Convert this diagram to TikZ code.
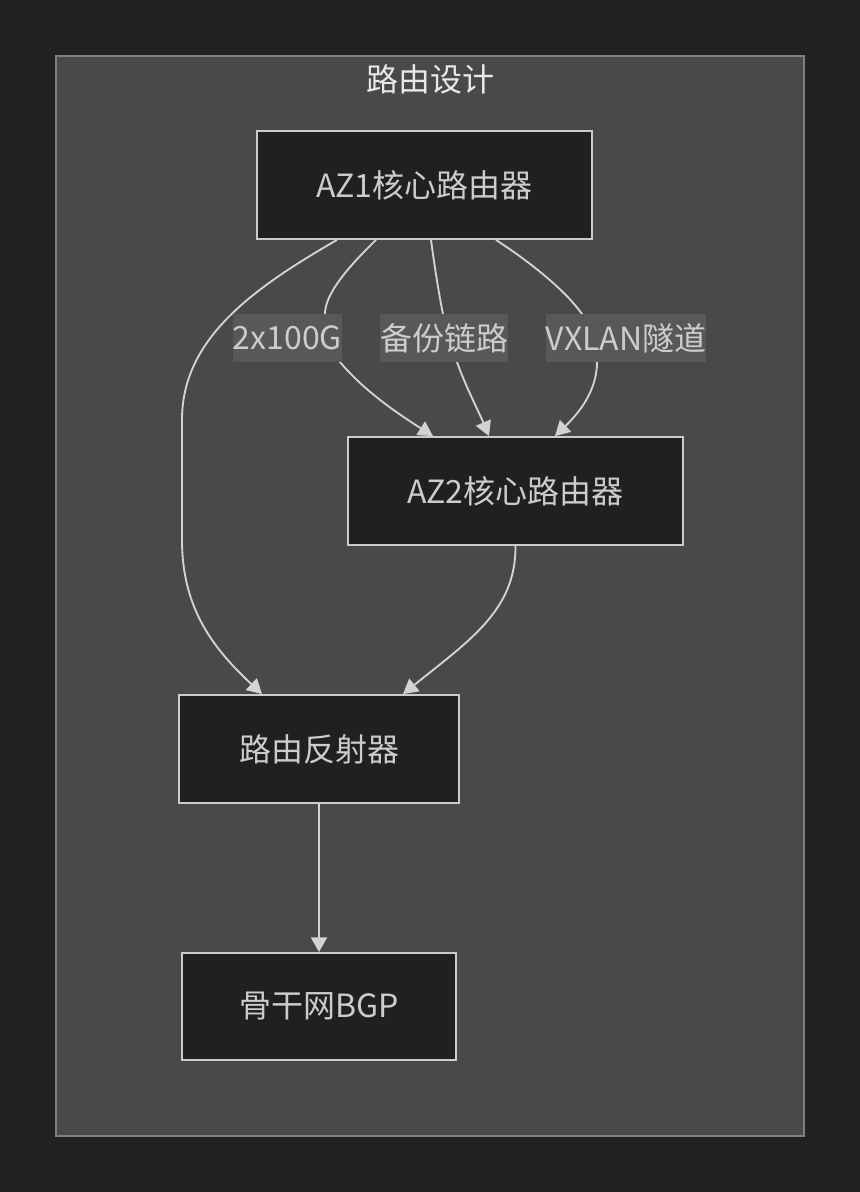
\documentclass[tikz,border=0pt]{standalone}
\usepackage{fontspec}
\setmainfont{Noto Sans CJK SC}
\usetikzlibrary{arrows.meta,calc}
\definecolor{pagebg}{HTML}{222222}
\definecolor{clusterbg}{HTML}{484949}
\definecolor{clusterline}{HTML}{808080}
\definecolor{nodebg}{HTML}{1F2020}
\definecolor{nodeline}{HTML}{CCCCCC}
\definecolor{textc}{HTML}{CCCCCC}
\definecolor{titlec}{HTML}{E8E8E8}
\definecolor{labelbg}{HTML}{585858}
\definecolor{edgec}{HTML}{D3D3D3}
\tikzset{
  box/.style={draw=nodeline, line width=1.4pt, fill=nodebg, text=textc,
    inner sep=0pt, minimum height=81pt,
    font=\fontsize{24}{28}\selectfont},
  elabel/.style={fill=labelbg, text=textc, inner sep=0pt, minimum height=36pt,
    font=\fontsize{24}{28}\selectfont},
  conn/.style={draw=edgec, line width=1.4pt,
    -{Triangle[length=11pt,width=12pt]}},
}
\begin{document}
\begin{tikzpicture}[x=0.75pt,y=-0.75pt]
\fill[pagebg] (0,0) rectangle (860,1192);
\useasboundingbox (0,0) rectangle (860,1192);
\draw[clusterline, fill=clusterbg, line width=1pt] (56,56) rectangle (804,1136);
\node[text=titlec, font=\fontsize{24}{28}\selectfont] (title) at (430,79) {路由设计};

\node[box, minimum width=251.25pt] (az1) at (424.5,185) {AZ1核心路由器};
\node[box, minimum width=251.25pt] (az2) at (515.5,491) {AZ2核心路由器};
\node[box, minimum width=210pt] (rr) at (319,749) {路由反射器};
\node[box, minimum width=205.5pt, minimum height=80.25pt] (bgp) at (319,1006.5) {骨干网BGP};

% edge start / end points
\coordinate (e1s) at ($(az1.south)+(-87.5,0)$);
\coordinate (e1e) at ($(rr.north)+(-57,0)$);
\coordinate (e2s) at ($(az1.south)+(-48.5,0)$);
\coordinate (e2e) at ($(az2.north)+(-82.5,0)$);
\coordinate (e3s) at ($(az1.south)+(6.5,0)$);
\coordinate (e3e) at ($(az2.north)+(-26.5,0)$);
\coordinate (e4s) at ($(az1.south)+(71.5,0)$);
\coordinate (e4e) at ($(az2.north)+(39.5,0)$);
\coordinate (e5s) at (az2.south);
\coordinate (e5e) at ($(rr.north)+(84,0)$);

\draw[conn] (e1s) .. controls (250,290) and (182,340) .. (182,420) -- (182,540)
  .. controls (182,610) and (215,650) .. (e1e);
\draw[conn] (e2s) .. controls (345,270) and (325,295) .. (325,314) -- (340,362)
  .. controls (365,392) and (400,415) .. (e2e);
\draw[conn] (e3s) .. controls (435,270) and (440,300) .. (443,314) -- (457,362)
  .. controls (465,385) and (478,410) .. (e3e);
\draw[conn] (e4s) .. controls (530,262) and (565,290) .. (582,314) -- (597,362)
  .. controls (597,390) and (580,412) .. (e4e);
\draw[conn] (e5s) .. controls (516,610) and (470,640) .. (e5e);
\draw[conn] (rr.south) -- (bgp.north);

\node[elabel, minimum width=80.25pt] (l1) at (287.5,338) {2x100G};
\node[elabel, minimum width=96pt] (l2) at (444,338) {备份链路};
\node[elabel, minimum width=117pt] (l3) at (626,338) {VXLAN隧道};
\end{tikzpicture}
\end{document}
